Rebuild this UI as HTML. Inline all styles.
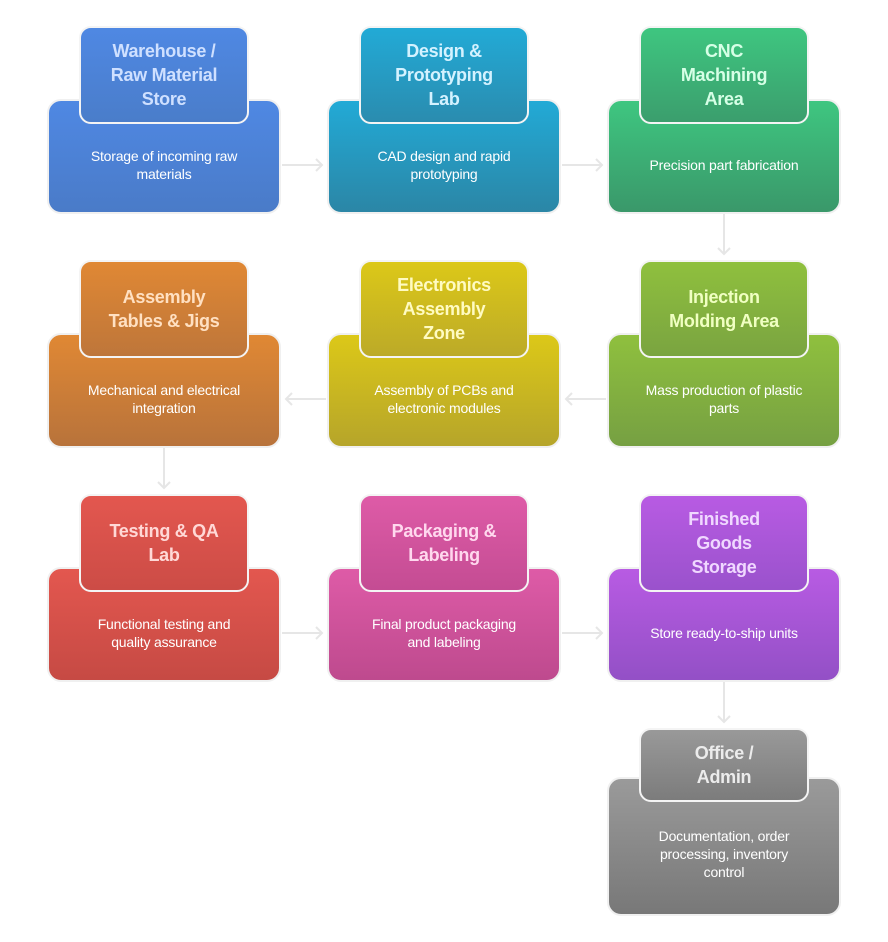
<!DOCTYPE html>
<html><head><meta charset="utf-8"><style>
body{margin:0;width:888px;height:942px;background:#fff;position:relative;font-family:"Liberation Sans",Arial,sans-serif;overflow:hidden}
.b{position:absolute;width:234px;border:2px solid #f0f0f0;border-radius:14px;box-sizing:border-box;color:#fff;font-size:14px;line-height:18px;letter-spacing:-0.2px;text-align:center;display:flex;align-items:center;justify-content:center;padding:0 6px;white-space:nowrap}
.t{position:absolute;width:170px;border:2px solid #f4f4f4;border-radius:12px;box-sizing:border-box;font-size:18px;font-weight:bold;line-height:24px;letter-spacing:-0.3px;text-align:center;display:flex;align-items:center;justify-content:center;z-index:2;white-space:nowrap}
svg{position:absolute;left:0;top:0}
</style></head><body>
<svg width="888" height="942" fill="none" stroke="#e6e6e6" stroke-width="2">
<path d="M282 165H322M316 159l6 6-6 6"/>
<path d="M562 165H602M596 159l6 6-6 6"/>
<path d="M724 214V254M718 248l6 6 6-6"/>
<path d="M606 399H566M572 393l-6 6 6 6"/>
<path d="M326 399H286M292 393l-6 6 6 6"/>
<path d="M164 448V488M158 482l6 6 6-6"/>
<path d="M282 633H322M316 627l6 6-6 6"/>
<path d="M562 633H602M596 627l6 6-6 6"/>
<path d="M724 682V722M718 716l6 6 6-6"/>
</svg>

<div class="b" style="left:47px;top:99px;height:115px;padding-top:17px;background:linear-gradient(#4f88e3,#4a7bc8)">Storage of incoming raw<br>materials</div>
<div class="t" style="left:79px;top:26px;height:98px;background:linear-gradient(#4f88e3,#4a7dca);color:#cfe0ff">Warehouse /<br>Raw Material<br>Store</div>

<div class="b" style="left:327px;top:99px;height:115px;padding-top:17px;background:linear-gradient(#22aad6,#2b86a6)">CAD design and rapid<br>prototyping</div>
<div class="t" style="left:359px;top:26px;height:98px;background:linear-gradient(#22aad6,#2a8caf);color:#d4f2ff">Design &amp;<br>Prototyping<br>Lab</div>

<div class="b" style="left:607px;top:99px;height:115px;padding-top:17px;background:linear-gradient(#3ec680,#3a986a)">Precision part fabrication</div>
<div class="t" style="left:639px;top:26px;height:98px;background:linear-gradient(#3ec680,#3b9e6d);color:#d6ffe6">CNC<br>Machining<br>Area</div>

<div class="b" style="left:47px;top:333px;height:115px;padding-top:17px;background:linear-gradient(#e08834,#b8733b)">Mechanical and electrical<br>integration</div>
<div class="t" style="left:79px;top:260px;height:98px;background:linear-gradient(#e08834,#be763a);color:#ffe0c2">Assembly<br>Tables &amp; Jigs</div>

<div class="b" style="left:327px;top:333px;height:115px;padding-top:17px;background:linear-gradient(#dcc818,#b6a52a)">Assembly of PCBs and<br>electronic modules</div>
<div class="t" style="left:359px;top:260px;height:98px;background:linear-gradient(#dcc818,#bcaa28);color:#fffbc2">Electronics<br>Assembly<br>Zone</div>

<div class="b" style="left:607px;top:333px;height:115px;padding-top:17px;background:linear-gradient(#8fc03e,#76a042)">Mass production of plastic<br>parts</div>
<div class="t" style="left:639px;top:260px;height:98px;background:linear-gradient(#8fc03e,#7aa440);color:#f0ffc2">Injection<br>Molding Area</div>

<div class="b" style="left:47px;top:567px;height:115px;padding-top:17px;background:linear-gradient(#e3574f,#c64a44)">Functional testing and<br>quality assurance</div>
<div class="t" style="left:79px;top:494px;height:98px;background:linear-gradient(#e3574f,#cc4c46);color:#ffd8d6">Testing &amp; QA<br>Lab</div>

<div class="b" style="left:327px;top:567px;height:115px;padding-top:17px;background:linear-gradient(#de5ba7,#be4a8e)">Final product packaging<br>and labeling</div>
<div class="t" style="left:359px;top:494px;height:98px;background:linear-gradient(#de5ba7,#c44c93);color:#ffd8ee">Packaging &amp;<br>Labeling</div>

<div class="b" style="left:607px;top:567px;height:115px;padding-top:17px;background:linear-gradient(#b85be3,#9350c6)">Store ready-to-ship units</div>
<div class="t" style="left:639px;top:494px;height:98px;background:linear-gradient(#b85be3,#9a52cc);color:#f0d8ff">Finished<br>Goods<br>Storage</div>

<div class="b" style="left:607px;top:777px;height:139px;padding-top:14px;background:linear-gradient(#9a9a9a,#787878)">Documentation, order<br>processing, inventory<br>control</div>
<div class="t" style="left:639px;top:728px;height:74px;background:linear-gradient(#999,#7c7c7c);color:#ececec">Office /<br>Admin</div>
</body></html>
